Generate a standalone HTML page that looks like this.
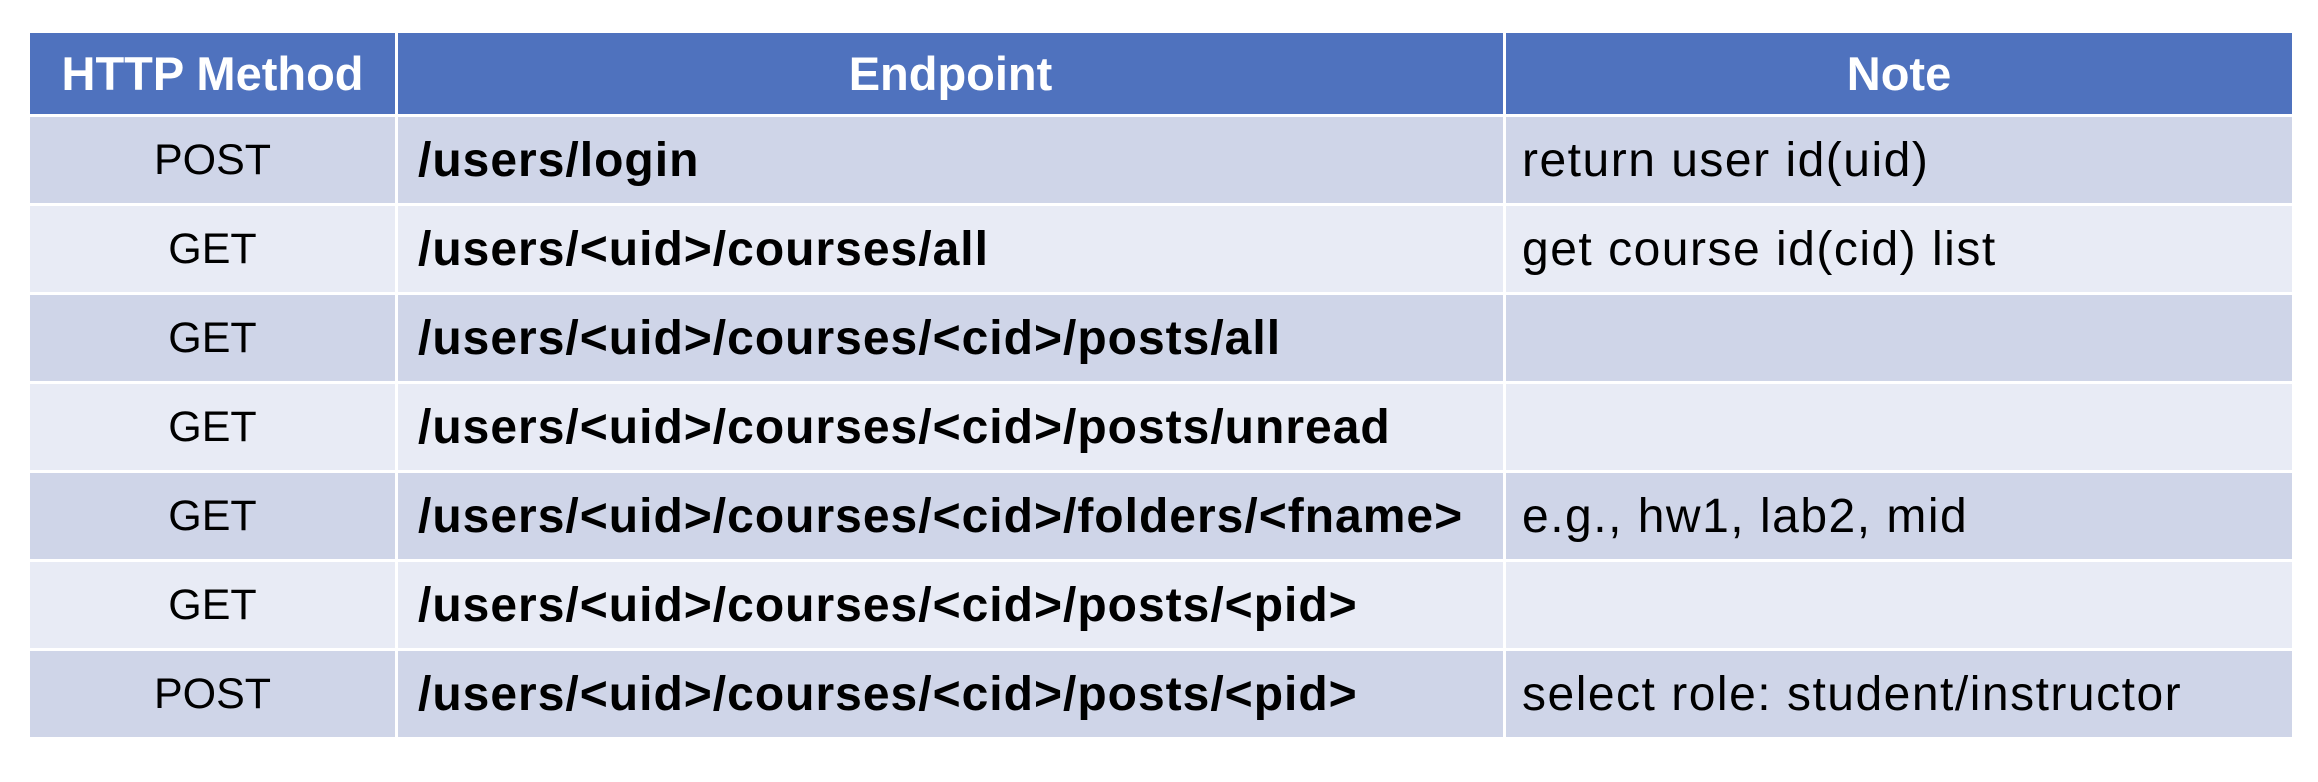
<!DOCTYPE html>
<html><head><style>
body{margin:0;width:2318px;height:782px;background:#fff;overflow:hidden;font-family:"Liberation Sans",sans-serif;}
table{position:absolute;left:30px;top:33px;border-collapse:separate;border-spacing:3px;width:2268px;margin:-3px;}
td,th{padding:0;height:86px;font-size:46px;color:#000;}
th{background:#4F72BE;color:#fff;font-weight:bold;height:81px;text-align:center;font-size:47px;}
tr:nth-child(even) td{background:#CFD5E8;}
tr:nth-child(odd) td{background:#E8EBF5;}
td.m{text-align:center;width:365px;font-size:43px;}
td.e{font-weight:bold;padding-left:20px;width:1085px;font-size:48px;letter-spacing:1px;}
td.n{padding-left:16px;font-size:48px;letter-spacing:1.5px;}
</style></head><body>
<table>
<tr><th style="width:365px">HTTP Method</th><th>Endpoint</th><th>Note</th></tr>
<tr><td class="m">POST</td><td class="e">/users/login</td><td class="n">return user id(uid)</td></tr>
<tr><td class="m">GET</td><td class="e">/users/&lt;uid&gt;/courses/all</td><td class="n">get course id(cid) list</td></tr>
<tr><td class="m">GET</td><td class="e">/users/&lt;uid&gt;/courses/&lt;cid&gt;/posts/all</td><td class="n"></td></tr>
<tr><td class="m">GET</td><td class="e">/users/&lt;uid&gt;/courses/&lt;cid&gt;/posts/unread</td><td class="n"></td></tr>
<tr><td class="m">GET</td><td class="e">/users/&lt;uid&gt;/courses/&lt;cid&gt;/folders/&lt;fname&gt;</td><td class="n">e.g., hw1, lab2, mid</td></tr>
<tr><td class="m">GET</td><td class="e">/users/&lt;uid&gt;/courses/&lt;cid&gt;/posts/&lt;pid&gt;</td><td class="n"></td></tr>
<tr><td class="m">POST</td><td class="e">/users/&lt;uid&gt;/courses/&lt;cid&gt;/posts/&lt;pid&gt;</td><td class="n">select role: student/instructor</td></tr>
</table>
</body></html>
